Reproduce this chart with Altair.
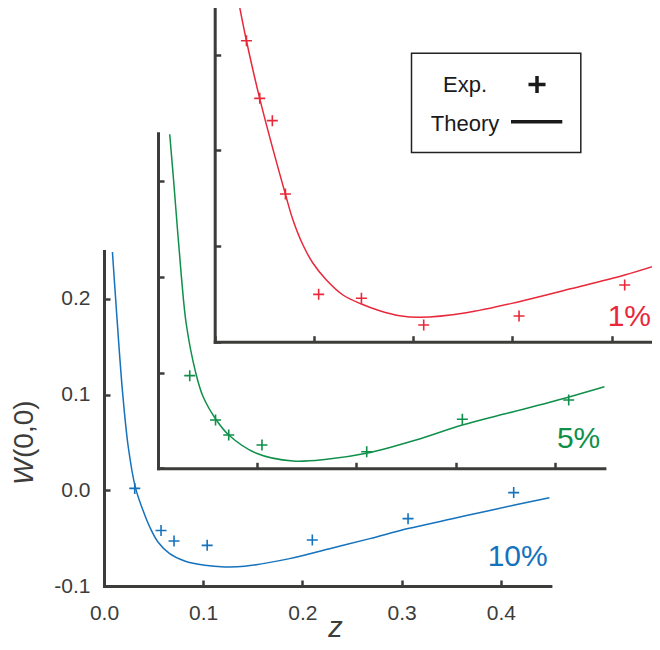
import altair as alt
import pandas as pd

# ---------------- data ----------------
# 10% panel (blue)
exp10_z = [0.031, 0.0575, 0.0706, 0.104, 0.210, 0.3065, 0.413]
exp10_w = [0.002, -0.042, -0.053, -0.0575, -0.052, -0.0296, -0.0024]
th10_z = [0.0085, 0.0118, 0.0185, 0.0245, 0.0317, 0.0393, 0.0461, 0.0544, 0.0662, 0.0813,
          0.1015, 0.1217, 0.1418, 0.187, 0.2275, 0.268, 0.3065, 0.35, 0.389, 0.449]
th10_w = [0.249, 0.199, 0.105, 0.045, 0.0028, -0.0209, -0.0383, -0.054, -0.0662, -0.0739,
          -0.0784, -0.0801, -0.0794, -0.0714, -0.061, -0.0505, -0.040, -0.030, -0.021, -0.0077]

# 5% panel (green)
exp5_z = [0.032, 0.058, 0.0713, 0.1048, 0.2104, 0.3068, 0.414]
exp5_w = [-0.0032, -0.0495, -0.0652, -0.0757, -0.0827, -0.0488, -0.0286]
th5_z = [0.0118, 0.0158, 0.0236, 0.0286, 0.038, 0.0454, 0.0588, 0.0713, 0.0992,
         0.136, 0.170, 0.210, 0.260, 0.3068, 0.35, 0.395, 0.450]
th5_w = [0.249, 0.2, 0.1, 0.05, 0.0, -0.025, -0.0495, -0.0652, -0.0843,
         -0.0924, -0.0906, -0.0843, -0.0704, -0.0548, -0.043, -0.031, -0.0147]

# 1% panel (red)
exp1_z = [0.032, 0.0454, 0.0581, 0.0713, 0.1048, 0.1479, 0.2107, 0.3068, 0.4133]
exp1_w = [0.2145, 0.1543, 0.131, 0.0543, -0.0505, -0.0546, -0.0826, -0.0731, -0.0407]
th1_z = [0.0252, 0.032, 0.0454, 0.0713, 0.0789, 0.089, 0.0991, 0.1126, 0.1293, 0.1479,
         0.1663, 0.1865, 0.2067, 0.2537, 0.3068, 0.36, 0.4133, 0.4486]
th1_w = [0.2494, 0.2145, 0.154, 0.054, 0.0272, 0.001, -0.018, -0.0355, -0.0512, -0.0606,
         -0.0676, -0.0728, -0.0745, -0.0697, -0.0582, -0.0445, -0.0303, -0.0191]

panel_labels = ["10%", "5%", "1%"]
panel_label_z = [0.417, 0.424, 0.418]
panel_label_w = [-0.079, -0.079, -0.084]

x_ticks = [0.0, 0.1, 0.2, 0.3, 0.4]
y_ticks = [-0.1, 0.0, 0.1, 0.2]
legend_labels = ["Exp.", "Theory"]

# ---------------- layout / style ----------------
W, H = 548, 578
PXX, PXY = 992, 957
Z_DOM = [0, 0.45]
W_DOM = [-0.1, 0.25]
AX = "#3c3c3a"
FONT = "Liberation Sans"
COLORS = ["#1572bd", "#0f8f4a", "#e8283a"]
ORIGINS = [(0, 578), (54, 460.3), (110.7, 333.7)]


def xs(x0):
    return alt.Scale(domain=Z_DOM, range=[x0, x0 + 0.45 * PXX], nice=False, zero=False)


def ys(yb):
    return alt.Scale(domain=W_DOM, range=[yb, yb - 0.35 * PXY], nice=False, zero=False)


def tick_x_axis(yb):
    return alt.Axis(orient="top", offset=-yb, values=x_ticks, labels=False, ticks=True,
                    tickSize=6, tickWidth=2.5, tickColor=AX, domain=True, domainWidth=3,
                    domainColor=AX, domainCap="square", grid=False, title=None)


def tick_y_axis(x0):
    return alt.Axis(orient="right", offset=x0 - W, values=y_ticks, labels=False, ticks=True,
                    tickSize=6, tickWidth=2.5, tickColor=AX, domain=True, domainWidth=3,
                    domainColor=AX, domainCap="square", grid=False, title=None)


label_x_axis = alt.Axis(orient="bottom", values=x_ticks, format=".1f", labelFlush=False,
                        labelFontSize=21, labelFont=FONT, labelColor=AX, labelPadding=16,
                        ticks=False, domain=False, grid=False,
                        title="z", titleFont=FONT, titleFontSize=29, titleFontStyle="italic",
                        titleFontWeight="normal", titleColor=AX, titleX=231, titleY=50,
                        titleBaseline="alphabetic")
label_y_axis = alt.Axis(orient="left", values=y_ticks, labelFontSize=21, labelFont=FONT,
                        labelColor=AX, labelPadding=14, ticks=False, domain=False, grid=False,
                        title=None,
                        labelExpr="datum.value < 0 ? '-' + format(-datum.value, '.1f') : format(datum.value, '.1f')")

plus = "M-1,0L1,0M0,-1L0,1"

sets = [(th10_z, th10_w, exp10_z, exp10_w),
        (th5_z, th5_w, exp5_z, exp5_w),
        (th1_z, th1_w, exp1_z, exp1_w)]

layers = []
for i, (tz, tw, ez, ew) in enumerate(sets):
    x0, yb = ORIGINS[i]
    c = COLORS[i]
    th = pd.DataFrame({"z": tz, "w": tw})
    ex = pd.DataFrame({"z": ez, "w": ew})
    layers.append(alt.Chart(th).mark_line(color=c, strokeWidth=1.5, interpolate="catmull-rom").encode(
        x=alt.X("z:Q", scale=xs(x0), axis=tick_x_axis(yb)),
        y=alt.Y("w:Q", scale=ys(yb), axis=tick_y_axis(x0)),
    ))
    if i == 0:
        xa, ya = label_x_axis, label_y_axis
    else:
        xa, ya = None, None
    layers.append(alt.Chart(ex).mark_point(shape=plus, size=121, filled=False, color=c,
                                           strokeWidth=1.6, opacity=1).encode(
        x=alt.X("z:Q", scale=xs(x0), axis=xa),
        y=alt.Y("w:Q", scale=ys(yb), axis=ya),
    ))
    lab = pd.DataFrame({"z": [panel_label_z[i]], "w": [panel_label_w[i]], "t": [panel_labels[i]]})
    layers.append(alt.Chart(lab).mark_text(color=c, fontSize=30, font=FONT, align="center",
                                           baseline="alphabetic").encode(
        x=alt.X("z:Q", scale=xs(x0), axis=None),
        y=alt.Y("w:Q", scale=ys(yb), axis=None),
        text="t:N",
    ))

one = pd.DataFrame({"a": [0]})
# legend box
layers.append(alt.Chart(one).mark_rect(fill="white", stroke="#222222", strokeWidth=1.5).encode(
    x=alt.value(307.5), x2=alt.value(476.8), y=alt.value(45.3), y2=alt.value(144.5)))
leg = pd.DataFrame({"t": legend_labels, "yy": [83.7, 122.7]})
layers.append(alt.Chart(leg).mark_text(color="#1a1a1a", fontSize=22, font=FONT, align="center",
                                       baseline="alphabetic").encode(
    x=alt.value(361), y=alt.Y("yy:Q", scale=None), text="t:N"))
layers.append(alt.Chart(one).mark_point(shape=plus, size=290, filled=False, color="#1a1a1a",
                                        strokeWidth=3.5, opacity=1).encode(
    x=alt.value(433), y=alt.value(76.5)))
layers.append(alt.Chart(one).mark_rule(color="#1a1a1a", strokeWidth=3.5).encode(
    x=alt.value(407), x2=alt.value(458.3), y=alt.value(113.7)))

# y-axis title W(0,0) with italic W
layers.append(alt.Chart(one).mark_text(text="W", fontSize=28, font=FONT, fontStyle="italic",
                                       color=AX, angle=270, align="left",
                                       baseline="alphabetic").encode(
    x=alt.value(-71), y=alt.value(477)))
layers.append(alt.Chart(one).mark_text(text="(0,0)", fontSize=28, font=FONT,
                                       color=AX, angle=270, align="left",
                                       baseline="alphabetic").encode(
    x=alt.value(-71), y=alt.value(450)))

chart = alt.layer(*layers).resolve_scale(
    x="independent", y="independent"
).resolve_axis(
    x="independent", y="independent"
).properties(
    width=W, height=H,
    autosize=alt.AutoSizeParams(type="none"),
    padding={"left": 96, "top": 0, "right": 0, "bottom": 56},
).configure_view(stroke=None)

chart.save("out.html", embed_options={"renderer": "svg", "actions": False})
